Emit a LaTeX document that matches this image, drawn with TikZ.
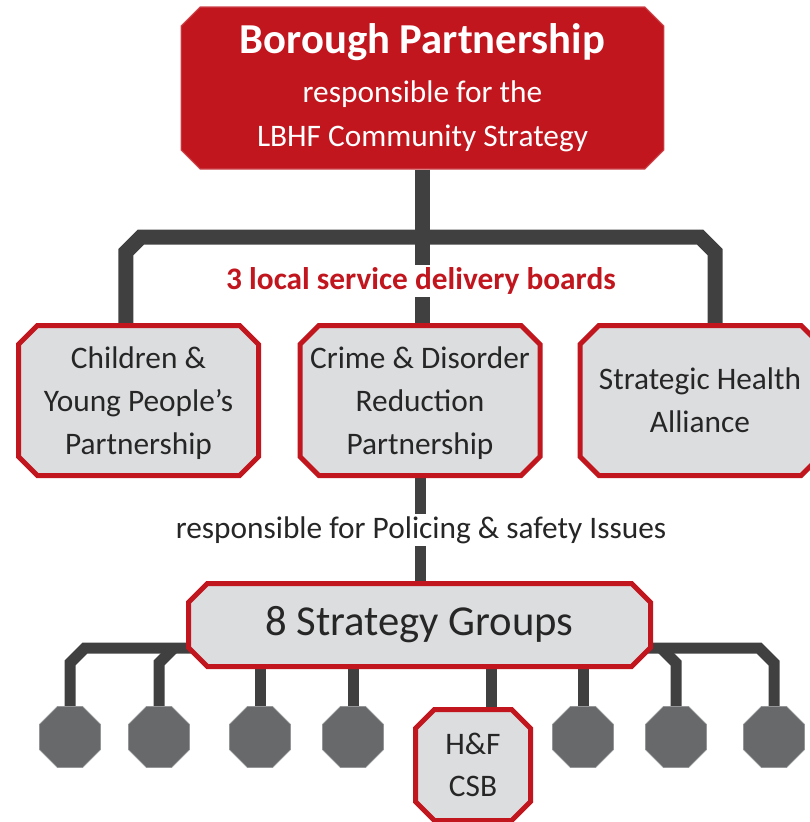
\documentclass[tikz,border=0pt]{standalone}
\usepackage{fontspec}
\setmainfont{Carlito}
\usetikzlibrary{shapes.misc,shapes.geometric,calc,backgrounds}
\definecolor{boardred}{RGB}{193,22,30}
\definecolor{boxgrey}{RGB}{220,221,223}
\definecolor{linkgrey}{RGB}{64,64,64}
\definecolor{octgrey}{RGB}{104,105,107}
\definecolor{textgrey}{RGB}{38,38,38}

\begin{document}
\begin{tikzpicture}[x=0.75pt, y=-0.75pt,
  topbox/.style = {chamfered rectangle, chamfered rectangle xsep=11pt, fill=boardred, draw=boardred!80!white, line width=0.8pt, text=white, align=center, inner sep=0pt, minimum width=362pt, minimum height=121.5pt},
  board/.style = {chamfered rectangle, chamfered rectangle xsep=11pt, fill=boxgrey, draw=boardred, line width=3.75pt, text=textgrey, align=center, inner sep=0pt, font=\fontsize{23.5}{32.5}\selectfont},
  octo/.style = {regular polygon, regular polygon sides=8, minimum size=49.5pt, inner sep=0pt, fill=octgrey, draw=octgrey!70!white, line width=0.6pt},
  link/.style = {linkgrey, line width=11.25pt},
  sublink/.style = {linkgrey, line width=8.25pt},
  lbl/.style = {fill=white, inner sep=2pt}]
  \useasboundingbox (0,0) rectangle (810,822);

  % partnership
  \node[topbox, font=\fontsize{23.5}{33}\selectfont] (top) at (422.5,88) {{\fontsize{32}{36}\selectfont\bfseries Borough Partnership}\\[4pt]responsible for the\\LBHF Community Strategy};

  % delivery boards
  \node[board, text depth=0pt, minimum width=180pt, minimum height=112.5pt] (b1) at (138.5,400.5) {Children \&\\Young People’s\\Partnership};
  \node[board, text depth=0pt, inner xsep=-4pt, minimum width=180pt, minimum height=112.5pt] (b2) at (420,400.5) {Crime \& Disorder\\Reduction\\Partnership};
  \node[board, minimum width=180pt, minimum height=112.5pt] (b3) at (700,400.5) {Strategic Health\\Alliance};
  \node[lbl, text=boardred, font=\fontsize{23.5}{26}\selectfont\bfseries] (boards) at (421,281) {3 local service delivery boards};

  % strategy groups
  \node[lbl, text=textgrey, font=\fontsize{23.5}{26}\selectfont] (policing) at (421,530) {responsible for Policing \& safety Issues};
  \node[board, minimum width=346.5pt, minimum height=62.25pt, font=\fontsize{32}{36}\selectfont] (sg) at (419.5,625) {8 Strategy Groups};
  \node[octo] (g1) at (70,737) {};
  \node[octo] (g2) at (159,737) {};
  \node[octo] (g3) at (260,737) {};
  \node[octo] (g4) at (353,737) {};
  \node[board, minimum width=86.25pt, minimum height=83.25pt, font=\fontsize{23.5}{31.5}\selectfont] (csb) at (473,765) {H\&F\\CSB};
  \node[octo] (g6) at (583,737) {};
  \node[octo] (g7) at (676,737) {};
  \node[octo] (g8) at (774,737) {};

  % links
  \coordinate (tb) at (0,237);
  \coordinate (lb) at (0,648);
  \coordinate (l1) at ([xshift=-9.4pt]b1.north);
  \coordinate (l3) at ([xshift=11.25pt]b3.north);
  \coordinate (lc) at ([xshift=13.5pt]csb.north);
  \begin{scope}[on background layer]
    \draw[link] (top.south) -- (top.south |- b2.center);
    \draw[link] (l1) -- ($(l1 |- tb)+(0,15)$) -- ($(l1 |- tb)+(15,0)$) -- ($(l3 |- tb)+(-15,0)$) -- ($(l3 |- tb)+(0,15)$) -- (l3);
    \draw[sublink] (b2.center) -- (b2.center |- sg.center);
    \draw[sublink] (g1.north) -- ($(g1.north |- lb)+(0,15)$) -- ($(g1.north |- lb)+(15,0)$) -- (sg.center |- lb);
    \draw[sublink] (g2.north) -- ($(g2.north |- lb)+(0,15)$) -- ($(g2.north |- lb)+(15,0)$);
    \draw[sublink] (g8.north) -- ($(g8.north |- lb)+(0,15)$) -- ($(g8.north |- lb)+(-15,0)$) -- (sg.center |- lb);
    \draw[sublink] (g7.north) -- ($(g7.north |- lb)+(0,15)$) -- ($(g7.north |- lb)+(-15,0)$);
    \draw[sublink] (g3.center) -- (g3.center |- sg.center);
    \draw[sublink] (g4.center) -- (g4.center |- sg.center);
    \draw[sublink] (g6.center) -- (g6.center |- sg.center);
    \draw[sublink] (lc) -- (lc |- sg.center);
  \end{scope}
\end{tikzpicture}
\end{document}
